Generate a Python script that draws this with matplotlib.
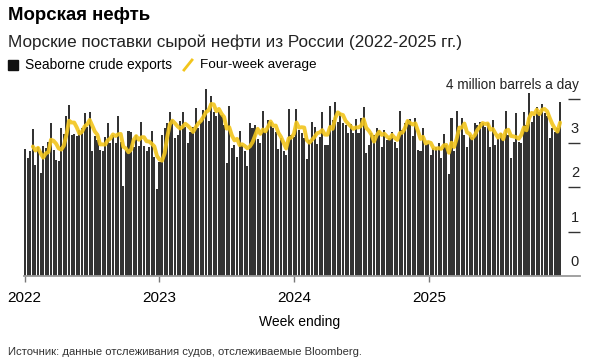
import matplotlib
matplotlib.use("Agg")
import matplotlib.pyplot as plt
import matplotlib.transforms as mtransforms
from matplotlib.lines import Line2D
import pandas as pd
import numpy as np

plt.rcParams['font.family'] = ['Liberation Sans', 'DejaVu Sans']

# weekly seaborne crude exports, million barrels a day
exports_2022 = [2.87, 2.67, 2.83, 3.32, 2.5, 2.92, 2.33, 2.93, 2.89, 3.03, 3.45, 2.84, 2.62, 2.6,
                3.35, 3.2, 3.61, 3.86, 3.18, 3.2, 3.17, 3.3, 3.34, 3.68, 3.37, 3.7, 2.81, 3.16,
                3.07, 2.84, 2.81, 3.14, 3.46, 3.0, 3.18, 3.0, 3.61, 3.03, 2.03, 2.84, 3.27, 3.26,
                2.92, 3.18, 2.94, 3.48, 2.93, 2.81, 2.92, 3.28, 2.69, 1.96, 2.58, 3.18, 3.35, 3.45,
                3.7, 3.52, 3.11, 3.18, 3.5, 3.69, 3.37, 3.0, 3.26, 3.37, 3.79, 3.35]
exports_2023 = [3.48, 3.75, 4.22, 3.5, 4.06, 3.71, 3.6, 3.71, 3.63, 3.41, 2.55, 3.84, 2.89, 2.96,
                2.69, 3.28, 2.96, 2.81, 2.48, 3.45, 3.33, 3.41, 3.09, 3.0, 3.72, 3.24, 3.51, 3.48,
                3.33, 3.26, 2.86, 3.11, 2.81, 2.73, 3.77, 3.18, 3.14, 3.77, 3.3, 3.22, 3.11, 2.63,
                3.07, 3.48, 3.37, 2.97, 3.14, 3.69, 2.96, 2.96, 3.84, 3.52, 3.93, 3.48, 3.67, 3.45,
                3.41, 3.22, 3.43, 3.22, 3.54, 3.22, 3.57, 3.82, 2.77, 2.96, 3.22, 3.18, 3.33, 3.3]
exports_2025 = [2.92, 3.3, 3.07, 3.11, 3.26, 3.03, 2.88, 3.73, 3.3, 3.45, 3.52, 3.54, 3.16, 3.56,
                2.84, 2.81, 3.35, 2.96, 2.97, 2.73, 2.88, 2.92, 3.01, 2.66, 3.2, 2.96, 2.3, 3.57,
                2.81, 3.72, 3.3, 3.56, 3.18, 2.92, 3.18, 3.14, 3.46, 3.41, 3.48, 3.46, 3.37, 3.46,
                2.92, 3.52, 2.96, 3.09, 3.22, 3.07, 3.73, 3.18, 2.66, 3.03, 3.67, 3.03, 3.0, 3.71,
                3.41, 4.12, 3.48, 3.6, 3.82, 3.71, 3.88, 3.67, 3.61, 3.11, 3.33, 3.26, 3.33, 3.93]
exports = exports_2022 + exports_2023 + exports_2025
weeks = pd.date_range('2022-01-02', periods=len(exports), freq='W-SUN')
years = [2022, 2023, 2024, 2025]
ytick_vals = [1, 2, 3]

s = pd.Series(exports, index=weeks)
avg = s.rolling(4).mean()

fig = plt.figure(figsize=(5.89, 3.63), dpi=100)
W, H = 589, 363
ax = fig.add_axes([24 / W, 1 - 276 / H, 556 / W, 191 / H])

bar_color = '#333333'
line_color = '#f2c51c'
ax.bar(weeks, exports, width=5.6, color=bar_color, linewidth=0)
ax.plot(avg.index, avg.values, color=line_color, lw=2.8, alpha=0.9, solid_capstyle='round')

x0 = pd.Timestamp('2021-12-30')
ax.set_xlim(x0, x0 + pd.Timedelta(days=1506))
ax.set_ylim(0, 4.31)

for sp in ['top', 'left', 'right']:
    ax.spines[sp].set_visible(False)
ax.spines['bottom'].set_color('#9a9a9a')
ax.spines['bottom'].set_linewidth(1.3)

ax.set_xticks([pd.Timestamp(f'{y}-01-01') for y in years])
ax.set_xticklabels([str(y) for y in years], fontsize=11)
ax.tick_params(axis='x', direction='out', length=4, width=1, color='#777', pad=7)

ax.yaxis.tick_right()
ax.set_yticks([1, 2, 3, 4])
ax.tick_params(axis='y', direction='in', length=9, width=1, color='#333', labelright=False)

tr = mtransforms.blended_transform_factory(ax.transAxes, ax.transData)
tr = mtransforms.offset_copy(tr, fig=fig, x=0, y=5, units='points')
for v in ytick_vals:
    ax.text(0.998, v, str(v), transform=tr, ha='right', va='bottom', fontsize=10.5, color='#222')
ax.text(0.998, 0, '0', transform=tr, ha='right', va='bottom', fontsize=10.5, color='#222')
ax.text(0.998, 4, '4 million barrels a day', transform=tr, ha='right', va='bottom',
        fontsize=9.8, color='#222')

fig.text(8 / W, 1 - 16 / H, 'Морская нефть', fontsize=13.4, fontweight='bold',
         va='center', ha='left')
fig.text(8 / W, 1 - 42 / H, 'Морские поставки сырой нефти из России (2022-2025 гг.)',
         fontsize=12.3, va='center', ha='left', color='#222')

# legend
fig.add_artist(Line2D([13 / W], [1 - 65 / H], marker='s', markersize=7, color='#111',
                      linestyle='none', transform=fig.transFigure))
fig.text(25 / W, 1 - 65 / H, 'Seaborne crude exports', fontsize=9.9, va='center', ha='left')
fig.add_artist(Line2D([184 / W, 192 / W], [1 - 70 / H, 1 - 60 / H], color=line_color, lw=2,
                      transform=fig.transFigure))
fig.text(200 / W, 1 - 65 / H, 'Four-week average', fontsize=9.7, va='center', ha='left')

fig.text(300 / W, 1 - 322 / H, 'Week ending', fontsize=10, va='center', ha='center')
fig.text(8 / W, 1 - 352 / H, 'Источник: данные отслеживания судов, отслеживаемые Bloomberg.',
         fontsize=8.1, va='center', ha='left', color='#333')

fig.savefig('out.png', dpi=100, facecolor='white')
